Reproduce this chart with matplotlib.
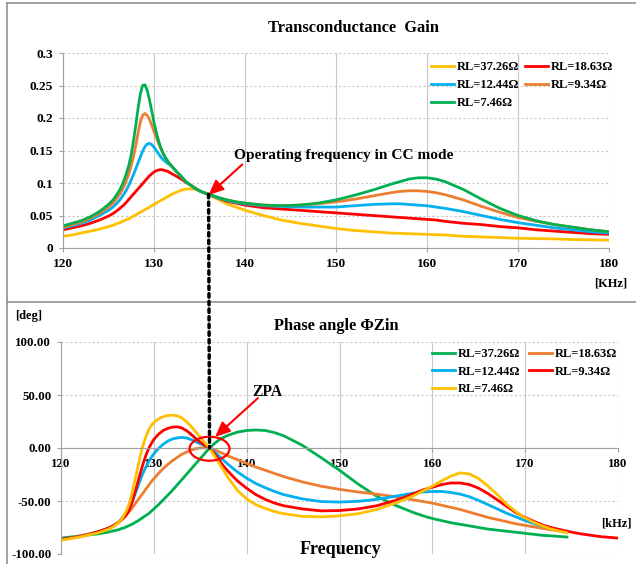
import matplotlib.pyplot as plt
import numpy as np
from matplotlib.patches import ConnectionPatch, Ellipse
from matplotlib.lines import Line2D

plt.rcParams['font.family'] = ['Liberation Serif', 'DejaVu Serif']
plt.rcParams['font.weight'] = 'bold'

W, H = 636, 564

# ---- transconductance gain (top) ----
f_top = [120, 121, 122, 123, 124, 125, 125.5, 126, 126.25, 126.5, 126.75, 127, 127.25, 127.5,
         127.75, 128, 128.25, 128.5, 128.75, 129, 129.25, 129.5, 129.75, 130, 130.25, 130.5,
         130.75, 131, 131.25, 131.5, 131.75, 132, 132.5, 133, 133.5, 134, 134.5, 135, 135.5,
         136, 137, 138, 139, 140, 142, 144, 146, 148, 150, 152, 154, 156, 157, 158, 159, 160,
         161, 162, 164, 166, 168, 170, 172, 174, 176, 178, 180]
g_37 = [.018, .020, .023, .026, .029, .033, .035, .038, .039, .041, .042, .044, .045, .047,
        .049, .051, .053, .055, .057, .059, .061, .063, .065, .067, .069, .071,
        .073, .075, .077, .079, .081, .083, .086, .089, .0905, .091, .0905, .088, .085,
        .0825, .075, .068, .063, .058, .050, .043, .038, .034, .030, .027, .025, .023, .0225, .022, .0215, .021,
        .0205, .020, .018, .017, .016, .015, .0145, .014, .013, .0125, .012]
g_18 = [.028, .031, .034, .038, .043, .049, .053, .058, .061, .064, .067, .071, .075, .079,
        .083, .087, .091, .095, .099, .103, .107, .111, .114, .117, .119, .120,
        .1205, .120, .119, .118, .116, .114, .110, .106, .101, .097, .092, .088, .085,
        .0825, .077, .072, .069, .066, .062, .060, .058, .056, .054, .052, .050, .048, .047, .046, .045, .044,
        .043, .041, .038, .036, .033, .031, .028, .026, .024, .022, .021]
g_12 = [.031, .034, .038, .043, .050, .058, .063, .070, .074, .079, .084, .090, .097, .105,
        .113, .122, .131, .140, .149, .156, .160, .161, .159, .155, .150, .145,
        .140, .136, .133, .130, .128, .125, .117, .110, .102, .097, .092, .088, .085,
        .0825, .077, .073, .070, .068, .065, .064, .063, .063, .063, .065, .067, .068, .068, .067, .066, .065,
        .063, .061, .056, .050, .044, .039, .035, .031, .028, .025, .023]
g_9 = [.032, .036, .040, .046, .053, .063, .069, .078, .083, .089, .096, .105, .115, .127,
       .141, .158, .177, .194, .204, .207, .204, .198, .189, .179, .170, .161,
       .153, .145, .139, .134, .129, .125, .117, .110, .102, .097, .092, .088, .085,
       .0825, .078, .074, .071, .069, .066, .065, .066, .068, .071, .075, .080, .085, .087, .088, .088, .087,
       .085, .082, .074, .064, .055, .047, .041, .036, .032, .028, .025]
g_7 = [.034, .038, .042, .048, .056, .067, .074, .084, .090, .097, .106, .116, .128, .144,
       .165, .189, .215, .237, .250, .251, .243, .228, .211, .193, .178, .165,
       .154, .146, .139, .134, .129, .125, .117, .110, .102, .097, .092, .088, .085,
       .0825, .078, .074, .071, .069, .066, .065, .066, .069, .074, .081, .089, .098, .102, .106, .108, .108,
       .106, .102, .090, .075, .061, .050, .042, .036, .032, .028, .025]

# ---- phase angle (bottom) ----
f_bot = [120, 121, 122, 123, 124, 125, 125.5, 126, 126.25, 126.5, 126.75, 127, 127.25, 127.5,
         127.75, 128, 128.25, 128.5, 128.75, 129, 129.25, 129.5, 129.75, 130, 130.5, 131,
         131.5, 132, 132.5, 133, 133.5, 134, 134.5, 135, 135.5, 136, 136.5, 137, 137.5, 138,
         139, 140, 141, 142, 143, 144, 146, 148, 150, 152, 154, 156, 157, 158, 159, 160, 161,
         162, 163, 164, 165, 166, 167, 168, 169, 170, 171, 172, 173, 174.5]
f_bot_red = f_bot + [176, 178, 180]
p_37 = [-85, -84, -83, -82, -81, -79.5, -78.5, -77.5, -77, -76, -75.5, -74.5, -73.5, -72.5,
        -71.5, -70, -69, -67.5, -66, -64.5, -63, -61.5, -59.5, -57.5, -53.5, -49,
        -44.5, -40, -35, -30, -25, -20, -15, -10, -5, 0, 4, 7.5, 10, 12,
        15, 16.5, 17, 16.5, 14.5, 11.5, 2.5, -9, -21, -34, -45.5, -54, -57.5, -61, -64, -66.5, -68.5,
        -70.5, -72, -73.5, -75, -76.5, -77.5, -78.5, -79.5, -80.5, -81.5, -82.5, -83, -84]
p_18 = [-86, -85, -83, -81, -79, -76, -74, -71, -69.5, -67.5, -65.5, -63.5, -61, -58.5,
        -55.5, -52.5, -49.5, -46.5, -43.5, -40.5, -37.5, -34.5, -31.5, -29, -24, -19.5,
        -15.5, -12, -9, -6, -4, -2, -0.7, 0, 0.2, 0, -1.5, -3.5, -5.5, -7.5,
        -11, -14.5, -18, -21, -24, -27, -32, -36, -39, -41.5, -43.5, -46, -47.5, -49, -50.5, -52, -54,
        -56, -58, -60.5, -63, -65.5, -67.5, -69.5, -71.5, -73, -74.5, -76, -77.5, -79]
p_12 = [-86, -85, -83.5, -81.5, -79, -76, -74, -71.5, -69.5, -67, -64.5, -61.5, -58, -53.5,
        -48.5, -43, -37, -31, -25.5, -20.5, -16, -12, -8.5, -5.5, -0.5, 3.5,
        6.5, 8.5, 9.5, 10, 9.5, 8, 6, 4, 2, 0, -3.5, -7.5, -11.5, -15.5,
        -22.5, -28.5, -33.5, -37.5, -41, -44, -48, -50.5, -51, -50.3, -48.5, -45.5, -44, -42.5, -41.5, -41, -41,
        -42, -43.5, -46, -49.5, -53.5, -57.5, -61.5, -65, -68.5, -71.5, -74, -76, -79]
p_9 = [-86, -85, -83.5, -81.5, -79, -76, -74, -71.5, -70, -68, -66, -63.5, -60, -55,
       -48.5, -41, -33, -25, -17.5, -10.5, -4.5, 0.5, 4.5, 8, 13, 16.5,
       18.5, 19.7, 20, 19, 16.5, 13, 9, 5.5, 2.5, 0, -5, -11, -17, -22,
       -31, -38, -44, -48.5, -52, -54.5, -57.5, -59.3, -59, -57.5, -54.5, -49.5, -46.5, -43, -39.5, -37, -34.5,
       -33, -33, -34.5, -38, -43, -49, -55, -61, -65.5, -69.5, -73, -75.5, -78.5,
       -81, -83.5, -85]
p_7 = [-87, -85.5, -84, -82, -80, -77, -75, -72, -70, -67.5, -64, -60, -55, -48,
       -39, -29, -19, -9, 0, 7, 13, 18, 21.5, 24, 27.5, 29.5,
       30.7, 31, 30.3, 28.5, 25, 20.5, 15.5, 10, 5, 0, -7, -14, -21, -28,
       -40, -48, -53.5, -57, -60, -62, -64.5, -65, -64, -62, -58, -52, -48.5, -45, -40.5, -36, -31,
       -26.5, -23.5, -24.5, -29, -36, -44, -53, -60, -66, -70.5, -74, -77, -80]

top_labels = ['RL=37.26Ω', 'RL=18.63Ω', 'RL=12.44Ω', 'RL=9.34Ω', 'RL=7.46Ω']
bot_labels = ['RL=37.26Ω', 'RL=18.63Ω', 'RL=12.44Ω', 'RL=9.34Ω', 'RL=7.46Ω']
top_ticks = [0, 0.05, 0.1, 0.15, 0.2, 0.25, 0.3]
top_ticklabels = ['0', '0.05', '0.1', '0.15', '0.2', '0.25', '0.3']
bot_ticks = [-100, -50, 0, 50, 100]
bot_ticklabels = ['-100.00', '-50.00', '0.00', '50.00', '100.00']
x_ticks = [120, 130, 140, 150, 160, 170, 180]

YEL, RED, BLU, ORA, GRN = '#FFC000', '#FF0000', '#00B0F0', '#ED7D31', '#00B050'
GRID = '#c8c8c8'

fig = plt.figure(figsize=(W / 100, H / 100), dpi=100)


def fx(px):
    return px / W


def fy(py):
    return 1 - py / H


ax1 = fig.add_axes([fx(63), fy(248), fx(609) - fx(63), fy(53) - fy(248)])
ax2 = fig.add_axes([fx(61), fy(554), fx(618) - fx(61), fy(342) - fy(554)])

# top curves
lines_top = {}
for g, c, lab in [(g_37, YEL, top_labels[0]), (g_18, RED, top_labels[1]),
                  (g_12, BLU, top_labels[2]), (g_9, ORA, top_labels[3]),
                  (g_7, GRN, top_labels[4])]:
    lines_top[lab] = ax1.plot(f_top, g, color=c, lw=2.0, label=lab)[0]

ax1.set_xlim(120, 180)
ax1.set_ylim(0, 0.3)
ax1.set_xticks(x_ticks)
ax1.set_yticks(top_ticks)
ax1.set_yticklabels(top_ticklabels)
ax1.grid(axis='x', color=GRID, lw=0.8)
ax1.grid(axis='y', color=GRID, lw=0.8, ls=(0, (2, 2)))
for s in ['top', 'right']:
    ax1.spines[s].set_visible(False)
for s in ['left', 'bottom']:
    ax1.spines[s].set_color('#a0a0a0')
ax1.tick_params(labelsize=9.6, length=3, color='#a0a0a0', pad=4)
order = [top_labels[0], top_labels[2], top_labels[4], top_labels[1], top_labels[3]]
ax1.legend([lines_top[k] for k in order], order, ncol=2, frameon=False,
           loc='upper left', bbox_to_anchor=((fx(426) - fx(63)) / (fx(609) - fx(63)), 0.985),
           fontsize=9, handlelength=1.85, handletextpad=0.2, columnspacing=0.5,
           labelspacing=0.5, borderaxespad=0)

# bottom curves
lines_bot = {}
for f, p, c, lab in [(f_bot, p_37, GRN, bot_labels[0]), (f_bot, p_18, ORA, bot_labels[1]),
                     (f_bot, p_12, BLU, bot_labels[2]), (f_bot_red, p_9, RED, bot_labels[3]),
                     (f_bot, p_7, YEL, bot_labels[4])]:
    lines_bot[lab] = ax2.plot(f, p, color=c, lw=2.0, label=lab)[0]

ax2.set_xlim(120, 180)
ax2.set_ylim(-100, 100)
ax2.set_xticks(x_ticks)
ax2.set_yticks(bot_ticks)
ax2.set_yticklabels(bot_ticklabels)
ax2.grid(axis='x', color=GRID, lw=0.8)
ax2.grid(axis='y', color=GRID, lw=0.8, ls=(0, (2, 2)))
ax2.spines['bottom'].set_position(('data', 0))
for s in ['top', 'right']:
    ax2.spines[s].set_visible(False)
for s in ['left', 'bottom']:
    ax2.spines[s].set_color('#a0a0a0')
ax2.tick_params(labelsize=9.3, length=3, color='#a0a0a0', pad=4)
order = [bot_labels[0], bot_labels[2], bot_labels[4], bot_labels[1], bot_labels[3]]
ax2.legend([lines_bot[k] for k in order], order, ncol=2, frameon=False,
           loc='upper left', bbox_to_anchor=((fx(427) - fx(61)) / (fx(618) - fx(61)), 0.995),
           fontsize=9, handlelength=1.85, handletextpad=0.2, columnspacing=0.7,
           labelspacing=0.45, borderaxespad=0)

# dotted operating-frequency line across both panels
con = ConnectionPatch(xyA=(136, 0.0825), coordsA=ax1.transData,
                      xyB=(136, 0), coordsB=ax2.transData,
                      color='black', lw=2.5, ls=(0, (1.0, 1.2)), zorder=10)
fig.add_artist(con)

# ZPA ellipse
ax2.add_patch(Ellipse((136, -0.7), 4.3, 22.6, fill=False, ec='red', lw=1.6, zorder=6))

# annotations
ax1.annotate('', xy=(136, 0.0815), xytext=(139.7, 0.1285),
             arrowprops=dict(arrowstyle='-|>,head_length=0.9,head_width=0.4',
                             color='red', lw=1.5, shrinkA=0, shrinkB=0), zorder=11)
fig.text(fx(234), fy(155), 'Operating frequency in CC mode', fontsize=11.1,
         fontweight='bold', ha='left', va='center')
ax2.annotate('', xy=(136.6, 10.5), xytext=(141.2, 47),
             arrowprops=dict(arrowstyle='-|>,head_length=0.9,head_width=0.4',
                             color='red', lw=1.5, shrinkA=0, shrinkB=0), zorder=11)
fig.text(fx(252), fy(392), 'ZPA', fontsize=11.2, fontweight='bold', ha='left', va='center')

fig.text(fx(353), fy(28), 'Transconductance  Gain', fontsize=11.8, fontweight='bold',
         ha='center', va='center')
fig.text(fx(336), fy(326), 'Phase angle ΦZin', fontsize=11.8, fontweight='bold',
         ha='center', va='center')
fig.text(fx(627), fy(284), '[KHz]', fontsize=9, fontweight='bold', ha='right', va='center')
fig.text(fx(632), fy(523), '[kHz]', fontsize=9, fontweight='bold', ha='right', va='center')
fig.text(fx(15), fy(316), '[deg]', fontsize=9, fontweight='bold', ha='left', va='center')
fig.text(fx(341), fy(550), 'Frequency', fontsize=13, fontweight='bold', ha='center', va='center')

# panel frame lines
for xs, ys in [([7, 636], [3, 3]), ([7, 7], [3, 564]), ([7, 636], [302, 302])]:
    fig.add_artist(Line2D([fx(x) for x in xs], [fy(y) for y in ys],
                          transform=fig.transFigure, color='#909090', lw=1.2))

fig.savefig('out.png', dpi=100)
